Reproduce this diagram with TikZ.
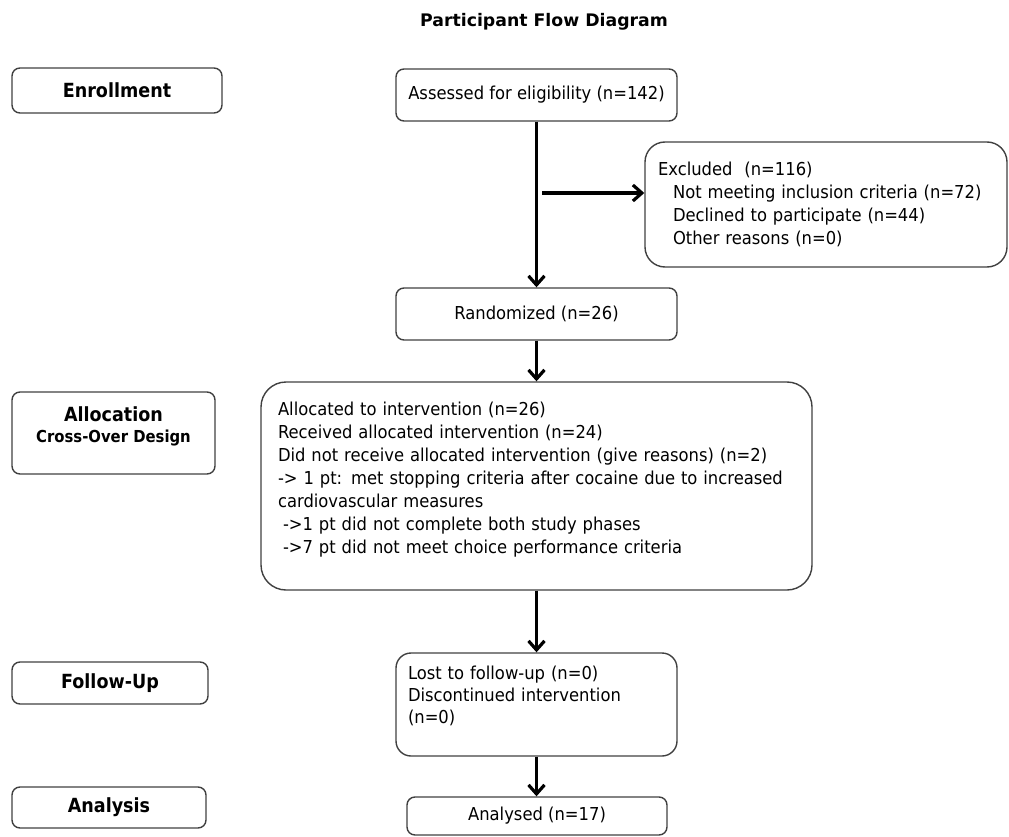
\documentclass[tikz,border=0pt]{standalone}
\usepackage{fontspec}
\usetikzlibrary{arrows.meta}
\newfontfamily\bodyfont{DejaVu Sans}[FakeStretch=0.92]
\newfontfamily\labelfont{DejaVu Sans}[FakeStretch=0.9]
\newfontfamily\titlefont{DejaVu Sans}
\begin{document}
\begin{tikzpicture}[x=1pt,y=-1pt,
  box/.style={draw=black!75, line width=1.4pt, rounded corners=#1, inner sep=0pt,
    font=\bodyfont\fontsize{17.8}{23}\selectfont},
  box/.default=8pt,
  stage/.style={draw=black!75, line width=1.4pt, rounded corners=8pt, inner sep=0pt,
    align=center, font=\labelfont\bfseries\fontsize{19.5}{21}\selectfont},
  flow/.style={line width=3.2pt, -{Straight Barb[length=9pt,width=16pt]}}
]
\useasboundingbox (0,0) rectangle (1009,837);

\node[font=\titlefont\bfseries\fontsize{17.3}{20}\selectfont, anchor=base, inner sep=0pt]
  (title) at (544,27) {Participant Flow Diagram};

% stage labels
\node[stage, minimum width=210pt, minimum height=45pt] (enr) at (117,90.5) {Enrollment};
\node[stage, minimum width=203pt, minimum height=82pt] (alloc) at (113.5,433)
  {Allocation\\{\fontsize{16.5}{21}\selectfont Cross-Over Design}\rule[-16pt]{0pt}{16pt}};
\node[stage, minimum width=196pt, minimum height=42pt] (fu) at (110,683) {Follow-Up};
\node[stage, minimum width=194pt, minimum height=41pt] (an) at (109,807.5) {Analysis};

% flow boxes
\node[box, minimum width=281pt, minimum height=52pt] (ass) at (536.5,95)
  {Assessed for eligibility (n=142)};
\node[box=20pt, minimum width=362pt, minimum height=125pt, text width=336pt,
  align=left, inner xsep=13pt] (exc) at (826,204.5)
  {Excluded\ \ (n=116)\\
   \hspace*{15pt}Not meeting inclusion criteria (n=72)\\
   \hspace*{15pt}Declined to participate (n=44)\\
   \hspace*{15pt}Other reasons (n=0)};
\node[box, minimum width=281pt, minimum height=52pt] (rand) at (536.5,314)
  {Randomized (n=26)};
\node[box=25pt, minimum width=551pt, minimum height=208pt, text width=517pt,
  align=left, inner xsep=17pt] (big) at (536.5,486)
  {Allocated to intervention (n=26)\\
   Received allocated intervention (n=24)\\
   Did not receive allocated intervention (give reasons) (n=2)\\
   -> 1 pt: met stopping criteria after cocaine due to increased\\
   cardiovascular measures\\
   \hspace*{5pt}->1 pt did not complete both study phases\\
   \hspace*{5pt}->7 pt did not meet choice performance criteria\rule[-16pt]{0pt}{16pt}};
\node[box=15pt, minimum width=281pt, minimum height=103pt, text width=257pt,
  align=left, inner xsep=12pt, font=\bodyfont\fontsize{17.8}{22}\selectfont] (lost) at (536.5,704.5)
  {Lost to follow-up (n=0)\\
   Discontinued intervention\\
   (n=0)\rule[-19pt]{0pt}{19pt}};
\node[box, minimum width=260pt, minimum height=38pt] (ana) at (537,816)
  {Analysed (n=17)};

% connectors
\draw[flow] (ass.south) -- (rand.north);
\coordinate (hs) at (542,193);
\draw[flow] (hs) -- (hs -| exc.west);
\draw[flow] (rand.south) -- (big.north);
\draw[flow] (big.south) -- (lost.north);
\draw[flow] (lost.south) -- (lost.south |- ana.north);
\end{tikzpicture}
\end{document}
